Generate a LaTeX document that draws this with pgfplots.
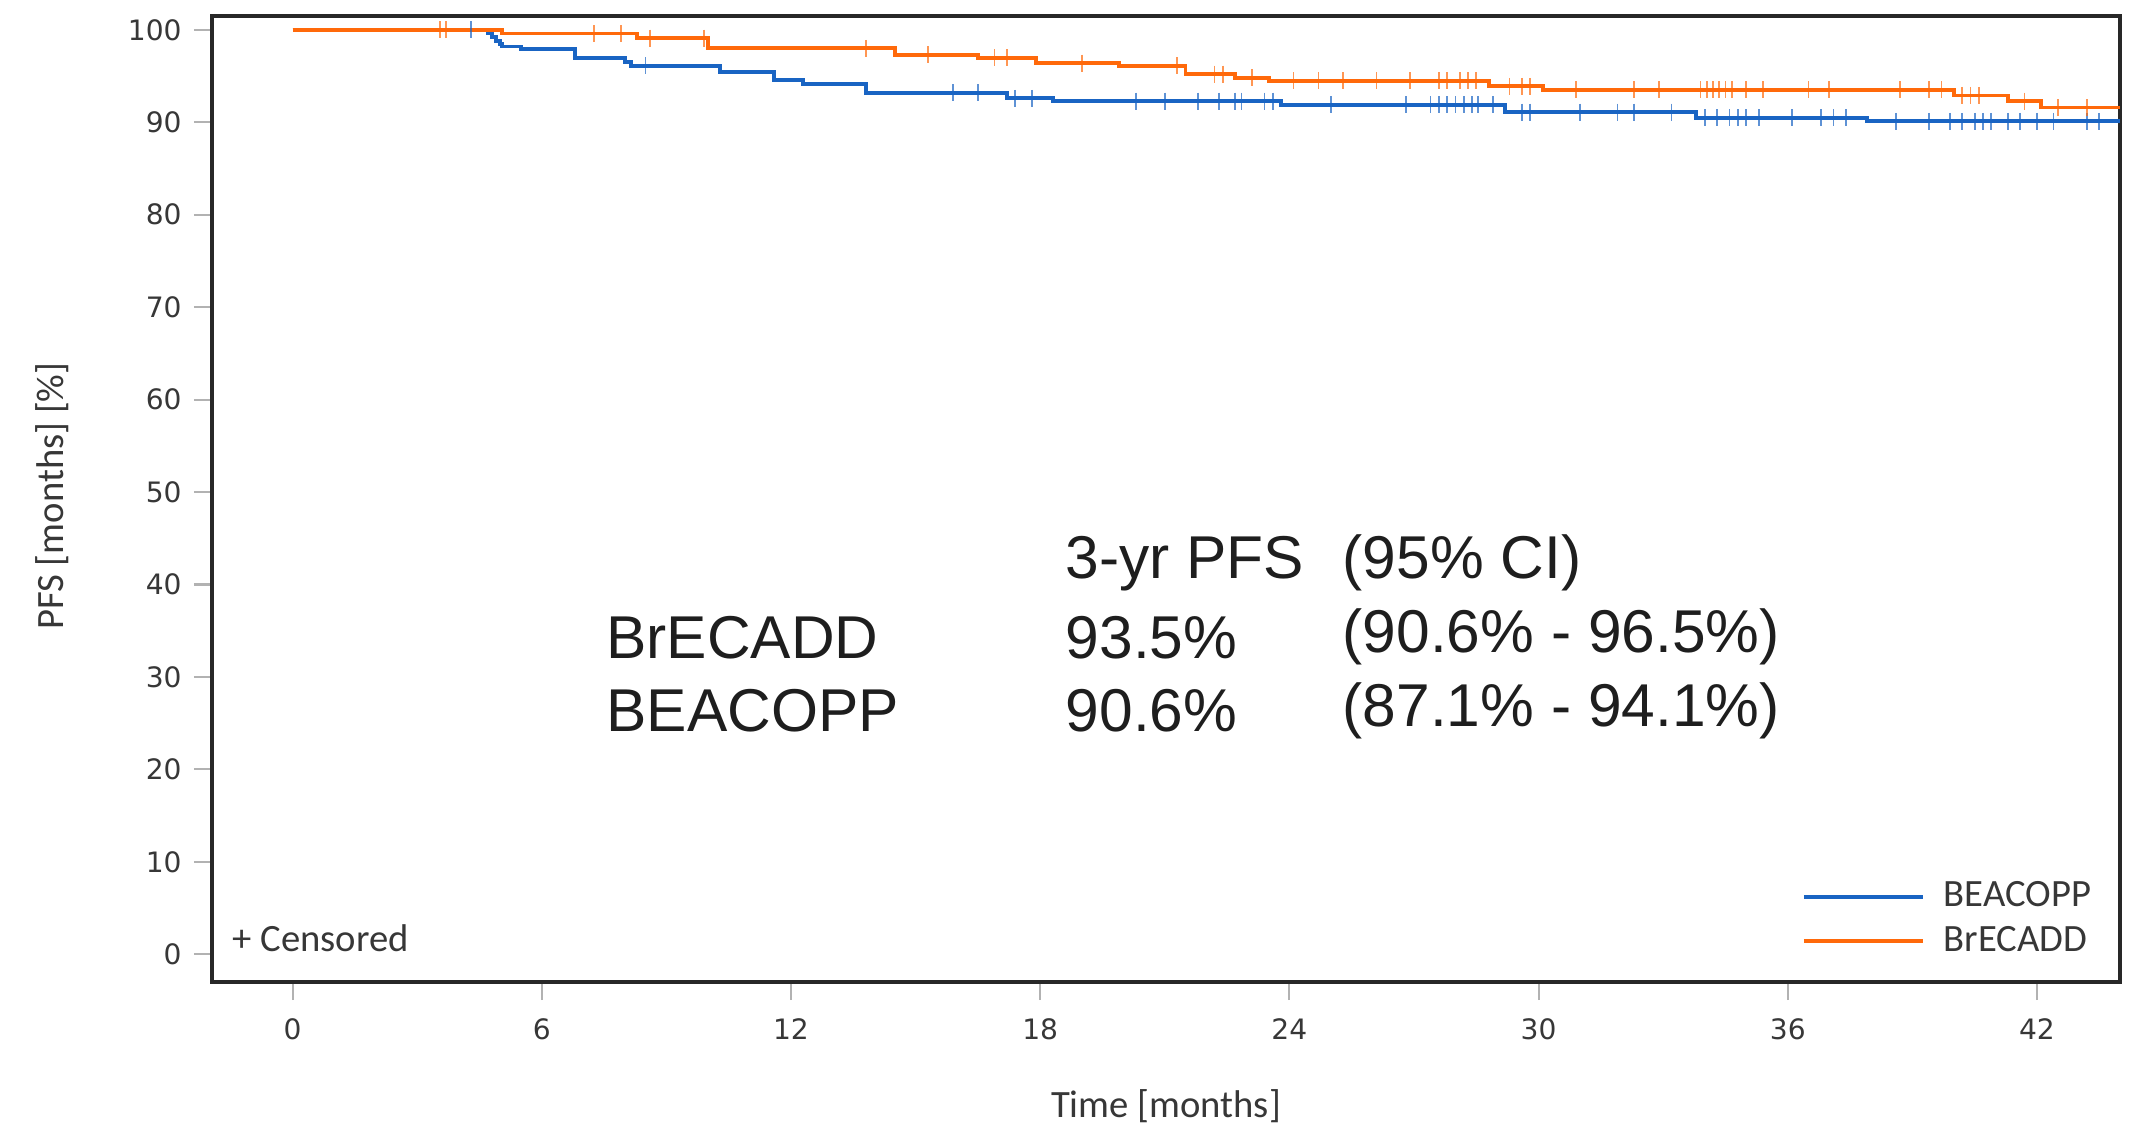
\documentclass[border=0pt]{standalone}
\usepackage{pgfplots}
\pgfplotsset{compat=1.18}
\usepackage{fontspec}
\setmainfont{Carlito}
\newfontfamily\dejavu{DejaVu Sans}
\newfontfamily\arialf{Liberation Sans}
\definecolor{kmblue}{RGB}{25,100,195}
\definecolor{kmorange}{RGB}{255,105,10}
\definecolor{tickgray}{RGB}{55,55,55}
\definecolor{boxgray}{RGB}{40,40,40}
\definecolor{txt}{RGB}{30,30,30}
\begin{document}
\begin{tikzpicture}
\begin{axis}[name=ax, scale only axis, width=19.08cm, height=9.66cm,
  xmin=-1.94, xmax=44.0, ymin=-3, ymax=101.5,
  xtick={0,6,...,42}, ytick={0,10,...,100},
  tick align=outside, major tick length=0.18cm,
  tick style={gray!60, line width=0.6pt},
  xtick pos=lower, ytick pos=left,
  axis line style={boxgray, line width=0.9pt},
  /pgf/number format/assume math mode=true,
  ticklabel style={font=\dejavu\fontsize{8}{9}\selectfont, text=tickgray},
  xticklabel style={yshift=-0.06cm},
  xlabel={Time [months]}, ylabel={PFS [months] [\%]},
  label style={font=\fontsize{11}{12}\selectfont, text=tickgray},
  xlabel style={at={(axis description cs:0.5,-0.1285)}, anchor=center},
  ylabel style={at={(axis description cs:-0.0839,0.503)}, anchor=center},
  legend style={draw=none, fill=none, inner sep=0pt, outer sep=0pt,
    row sep=0pt, font=\fontsize{11}{12}\selectfont, text=tickgray,
    at={(axis cs:36.34,8.6)}, anchor=north west},
  legend cell align=left,
  legend image code/.code={\draw[#1] (0cm,0cm) -- (1.19cm,0cm); \path (1.31cm,0cm);},
]
\addplot[kmblue, line width=1.1pt, const plot] coordinates {
(0,100)(4.7,99.6)(4.8,99.2)(4.9,98.8)(5.0,98.5)(5.05,98.2)(5.5,97.9)(6.8,97.0)(8.0,96.5)(8.15,96.1)
(10.3,95.4)(11.6,94.6)(12.3,94.1)(13.8,93.2)(17.2,92.6)(18.3,92.3)(23.8,91.9)(29.2,91.1)
(33.8,90.5)(37.9,90.1)(44,90.1)};
\addlegendentry{BEACOPP}
\addplot[kmorange, line width=1.1pt, const plot] coordinates {
(0,100)(5.05,99.6)(8.3,99.1)(10.0,98.0)(14.5,97.3)(16.5,97.0)(17.9,96.4)(19.9,96.1)
(21.5,95.2)(22.7,94.8)(23.5,94.5)(28.8,93.9)(30.1,93.5)(40.0,92.9)(41.3,92.3)(42.1,91.6)(44,91.6)};
\addlegendentry{BrECADD}
\addplot[kmblue, opacity=0.7, only marks, mark=|, mark size=0.85mm, mark options={line width=0.5pt}, forget plot] coordinates {
(4.3,100)(8.5,96.1)(15.9,93.2)(16.5,93.2)(17.4,92.6)(17.8,92.6)(20.3,92.3)(21.0,92.3)(21.8,92.3)(22.3,92.3)(22.7,92.3)(22.85,92.3)(23.4,92.3)(23.6,92.3)
(25.0,91.9)(26.8,91.9)(27.4,91.9)(27.6,91.9)(27.8,91.9)(28.0,91.9)(28.2,91.9)(28.4,91.9)(28.55,91.9)(28.9,91.9)
(29.6,91.1)(29.8,91.1)(31.0,91.1)(31.9,91.1)(32.3,91.1)(33.2,91.1)
(34.0,90.5)(34.3,90.5)(34.6,90.5)(34.8,90.5)(35.0,90.5)(35.3,90.5)(36.1,90.5)(36.8,90.5)(37.1,90.5)(37.4,90.5)
(38.6,90.1)(39.4,90.1)(39.9,90.1)(40.2,90.1)(40.5,90.1)(40.7,90.1)(40.9,90.1)(41.3,90.1)(41.6,90.1)(42.0,90.1)(42.4,90.1)(43.2,90.1)(43.5,90.1)};
\addplot[kmorange, opacity=0.7, only marks, mark=|, mark size=0.85mm, mark options={line width=0.5pt}, forget plot] coordinates {
(3.55,100)(3.7,100)(7.26,99.6)(7.9,99.6)(8.6,99.1)(9.9,99.1)(13.8,98.0)(15.3,97.3)(16.9,97.0)(17.2,97.0)(19.0,96.4)(21.3,96.1)
(22.2,95.2)(22.4,95.2)(23.1,94.8)(24.1,94.5)(24.7,94.5)(25.3,94.5)(26.1,94.5)(26.9,94.5)(27.6,94.5)(27.8,94.5)(28.1,94.5)(28.3,94.5)(28.5,94.5)
(29.3,93.9)(29.6,93.9)(29.8,93.9)(30.9,93.5)(32.3,93.5)(32.9,93.5)(33.9,93.5)(34.05,93.5)(34.2,93.5)(34.35,93.5)(34.5,93.5)(34.65,93.5)
(35.0,93.5)(35.4,93.5)(36.5,93.5)(37.0,93.5)(38.7,93.5)(39.4,93.5)(39.7,93.5)(40.2,92.9)(40.4,92.9)(40.6,92.9)(41.7,92.3)(42.5,91.6)(43.2,91.6)};
\begin{scope}[every node/.style={anchor=west, inner sep=0pt, text=txt, font=\arialf\fontsize{17.2}{20}\selectfont}]
\node at (axis cs:18.6,42.3) {3-yr PFS};
\node at (axis cs:25.27,42.3) {(95\% CI)};
\node at (axis cs:7.54,34.3) {BrECADD};
\node at (axis cs:18.6,34.3) {93.5\%};
\node at (axis cs:25.27,34.3) {(90.6\% - 96.5\%)};
\node at (axis cs:7.54,26.3) {BEACOPP};
\node at (axis cs:18.6,26.3) {90.6\%};
\node at (axis cs:25.27,26.3) {(87.1\% - 94.1\%)};
\end{scope}
\node[anchor=west, inner sep=0pt, text=tickgray, font=\fontsize{11}{12}\selectfont] at (axis cs:-1.46,1.75) {+ Censored};
\end{axis}
\pgfresetboundingbox
\path ([shift={(-2.12cm,-1.40cm)}]ax.south west) rectangle ([shift={(0.24cm,0.16cm)}]ax.north east);
\end{tikzpicture}
\end{document}
